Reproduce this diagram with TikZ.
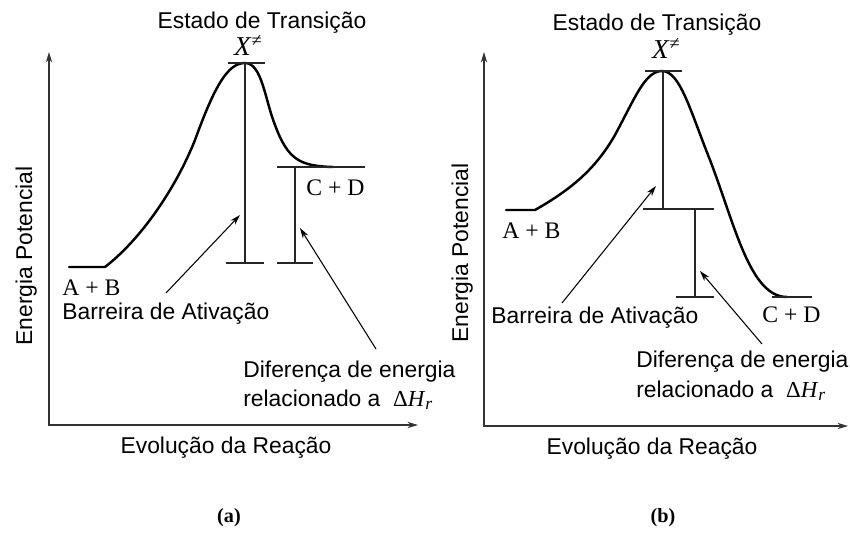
\documentclass[tikz,border=0pt]{standalone}
\usepackage{fontspec}
\setmainfont{Liberation Sans}
\newfontfamily\serif{Liberation Serif}
\usepackage{tikz}
\usetikzlibrary{arrows.meta}

\newcommand{\dH}{{\serif Δ\textit{H}\raisebox{-0.35ex}{\fontsize{10}{10}\selectfont\textit{r}}}}
\newcommand{\Xts}{{\serif\textit{X}\raisebox{0.7ex}{\fontsize{10.5}{10}\selectfont ≠}}}

\begin{document}
\begin{tikzpicture}[x=0.02cm,y=-0.02cm,>={Stealth[length=6pt,width=3.6pt]},
        lbl/.style={font=\fontsize{13}{15}\selectfont,inner sep=0pt},
        chem/.style={font=\fontsize{13.5}{16}\serif,inner sep=0pt},
        axis/.style={<->,line width=0.6pt,black!80},
        curve/.style={line width=1.4pt,line cap=round},
        bar/.style={line width=0.7pt,black!85},
        pointer/.style={->,line width=0.6pt}]
        \useasboundingbox (0,0) rectangle (850,532);

        %%%%%%%%%%%%%%%% (a) %%%%%%%%%%%%%%%%
        % axes
        \draw[axis] (49,52) -- (49,425) -- (418,425);
        % energy profile
        \draw[curve] (69,267) -- (105,267)
            .. controls (140,240) and (175,190) .. (195,140)
            .. controls (215,85) and (228,63) .. (245,63)
            .. controls (262,63) and (265,100) .. (275,125)
            .. controls (288,160) and (300,166) .. (333,167);
        % brackets
        \draw[bar] (228,63) -- (265,63);
        \draw[bar] (245,63) -- (245,263);
        \draw[bar] (226,263) -- (264,263);
        \draw[bar] (277,167) -- (365,167);
        \draw[bar] (295,167) -- (295,263);
        \draw[bar] (277,263) -- (313,263);
        % labels
        \node[lbl,anchor=base] (titleA) at (262,28) {Estado de Transição};
        \node[anchor=base,inner sep=0pt,font=\fontsize{15.5}{18}\selectfont] (xA) at (248,55) {\Xts};
        \node[chem,anchor=base west] (abA) at (62,295) {A + B};
        \node[chem,anchor=base west] (cdA) at (306,195) {C + D};
        \node[lbl,anchor=base west] (barrA) at (62,319) {Barreira de Ativação};
        \node[lbl,anchor=base west] (difA) at (243,377) {Diferença de energia};
        \node[lbl,anchor=base west] (relA) at (243,406) {relacionado a \ \dH};
        \node[lbl,anchor=base] (evoA) at (226,453) {Evolução da Reação};
        \node[lbl,anchor=base,rotate=90] (enA) at (32,256) {Energia Potencial};
        \node[anchor=base,inner sep=0pt,font=\fontsize{11.5}{13}\serif\bfseries] (capA) at (229,522) {(a)};
        % pointers
        \coordinate (barrA-tail) at (166,293);
        \coordinate (barrA-tip) at (240,215);
        \coordinate (difA-tail) at (376,349);
        \coordinate (difA-tip) at (300,228);
        \draw[pointer] (barrA-tail) -- (barrA-tip);
        \draw[pointer] (difA-tail) -- (difA-tip);

        %%%%%%%%%%%%%%%% (b) %%%%%%%%%%%%%%%%
        % axes
        \draw[axis] (484,52) -- (484,426) -- (848,426);
        % energy profile
        \draw[curve] (506,210) -- (535,210)
            .. controls (570,190) and (595,170) .. (615,135)
            .. controls (635,98) and (645,71) .. (662,71)
            .. controls (680,71) and (690,110) .. (710,160)
            .. controls (735,225) and (750,297) .. (787,297);
        % brackets
        \draw[bar] (645,71) -- (682,71);
        \draw[bar] (663,71) -- (663,209);
        \draw[bar] (643,209) -- (714,209);
        \draw[bar] (695,209) -- (695,297);
        \draw[bar] (676,297) -- (714,297);
        \draw[bar] (772,297) -- (812,297);
        % labels
        \node[lbl,anchor=base] (titleB) at (657,30) {Estado de Transição};
        \node[anchor=base,inner sep=0pt,font=\fontsize{15.5}{18}\selectfont] (xB) at (666,58) {\Xts};
        \node[chem,anchor=base west] (abB) at (502,238) {A + B};
        \node[chem,anchor=base west] (cdB) at (762,322) {C + D};
        \node[lbl,anchor=base west] (barrB) at (491,323) {Barreira de Ativação};
        \node[lbl,anchor=base west] (difB) at (636,367) {Diferença de energia};
        \node[lbl,anchor=base west] (relB) at (636,397) {relacionado a \ \dH};
        \node[lbl,anchor=base] (evoB) at (652,454) {Evolução da Reação};
        \node[lbl,anchor=base,rotate=90] (enB) at (468,253) {Energia Potencial};
        \node[anchor=base,inner sep=0pt,font=\fontsize{11.5}{13}\serif\bfseries] (capB) at (663,522) {(b)};
        % pointers
        \coordinate (barrB-tail) at (562,303);
        \coordinate (barrB-tip) at (656,186);
        \coordinate (difB-tail) at (762,344);
        \coordinate (difB-tip) at (700,271);
        \draw[pointer] (barrB-tail) -- (barrB-tip);
        \draw[pointer] (difB-tail) -- (difB-tip);
\end{tikzpicture}
\end{document}
